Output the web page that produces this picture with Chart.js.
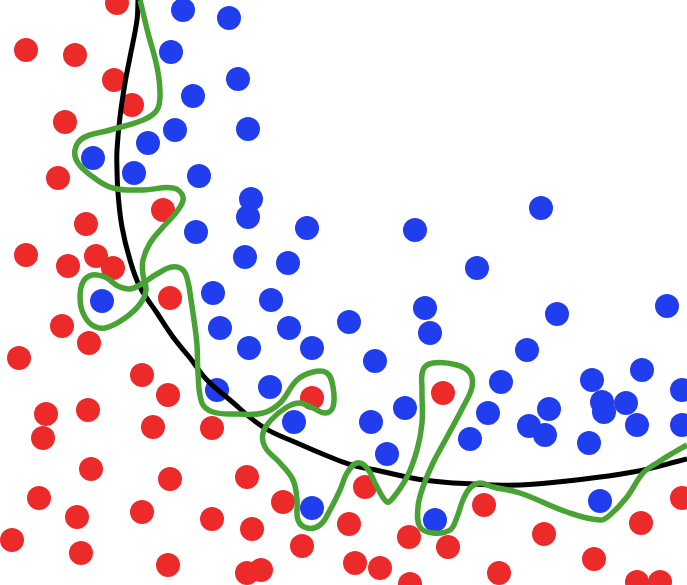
<!DOCTYPE html>
<html>
<head>
<meta charset="utf-8">
<script src="https://cdn.jsdelivr.net/npm/chart.js@4"></script>
<style>
  html, body { margin: 0; padding: 0; background: #ffffff; }
  #wrap { width: 687px; height: 585px; position: relative; }
</style>
</head>
<body>
<div id="wrap"><canvas id="c"></canvas></div>
<script>
// Red class points (x, y in picture units, y measured downward)
const redX = [117, 26, 75, 114, 132, 65, 58, 163, 86, 26, 68, 96, 113, 170, 62, 89, 19, 142, 168, 46, 88, 43, 153, 212, 312, 91, 170, 247, 39, 77, 142, 212, 283, 252, 12, 81, 168, 302, 247, 261, 349, 365, 443, 484, 682, 409, 448, 544, 641, 355, 380, 499, 594, 410, 637, 660];
const redY = [3, 50, 55, 80, 105, 122, 178, 210, 224, 255, 266, 256, 268, 298, 326, 343, 358, 375, 395, 414, 410, 438, 427, 428, 398, 469, 479, 477, 498, 517, 512, 519, 502, 529, 540, 553, 565, 546, 573, 570, 524, 487, 393, 505, 498, 537, 547, 534, 523, 563, 568, 573, 559, 584, 582, 582];

// Blue class points
const blueX = [183, 229, 171, 238, 193, 175, 248, 148, 93, 134, 199, 251, 248, 196, 307, 245, 288, 102, 213, 271, 220, 289, 349, 249, 312, 217, 270, 294, 312, 415, 541, 477, 425, 430, 557, 667, 375, 527, 501, 592, 642, 682, 405, 371, 488, 470, 387, 549, 529, 545, 602, 604, 626, 637, 589, 682, 600, 435];
const blueY = [10, 18, 52, 79, 96, 130, 129, 143, 158, 173, 176, 199, 217, 232, 228, 257, 263, 301, 293, 300, 328, 328, 322, 348, 348, 390, 387, 422, 508, 230, 208, 268, 308, 333, 314, 306, 361, 350, 382, 380, 370, 390, 408, 422, 413, 439, 454, 409, 426, 435, 402, 412, 403, 425, 443, 425, 501, 520];

// Smooth decision boundary (black)
const blackX = [138, 137, 130, 125, 120, 117, 117, 118, 122, 130, 140, 157, 173, 190, 207, 230, 263, 297, 330, 352, 380, 423, 473, 520, 567, 633, 687];
const blackY = [0, 20, 57, 83, 117, 150, 170, 193, 227, 260, 287, 313, 337, 358, 380, 400, 427, 443, 457, 465, 471, 480, 484, 485, 481, 472, 459];

// Overfitted boundary (green)
const greenX = [140, 148, 157, 160, 157, 143, 110, 83, 75, 78, 93, 113, 143, 173, 183, 178, 163, 150, 143, 143, 146, 140, 125, 105, 92, 83, 80, 83, 92, 105, 118, 130, 143, 157, 172, 183, 188, 191, 194, 197, 198, 202, 213, 237, 263, 280, 297, 313, 327, 333, 333, 325, 313, 300, 287, 271, 263, 265, 280, 293, 297, 298, 307, 320, 330, 340, 347, 357, 367, 377, 387, 393, 407, 417, 422, 422, 423, 433, 457, 470, 472, 463, 447, 433, 423, 418, 420, 433, 450, 457, 463, 470, 480, 493, 520, 567, 600, 610, 627, 643, 657, 673, 687];
const greenY = [0, 33, 67, 93, 110, 120, 130, 138, 150, 163, 177, 188, 190, 188, 197, 210, 227, 243, 260, 275, 290, 304, 318, 328, 325, 313, 297, 282, 275, 277, 286, 289, 283, 274, 267, 270, 282, 300, 320, 345, 373, 403, 412, 414, 413, 403, 380, 372, 373, 387, 407, 413, 408, 403, 407, 420, 433, 447, 463, 480, 500, 520, 528, 525, 510, 490, 473, 463, 468, 487, 502, 498, 477, 450, 423, 390, 370, 363, 365, 373, 387, 407, 437, 463, 487, 507, 527, 533, 530, 517, 500, 488, 483, 487, 493, 512, 520, 515, 497, 473, 463, 453, 445];

const pts = (xs, ys) => xs.map((x, i) => ({ x: x, y: ys[i] }));

new Chart(document.getElementById('c'), {
  type: 'scatter',
  data: {
    datasets: [
      {
        label: 'overfit',
        data: pts(greenX, greenY),
        showLine: true,
        borderColor: 'rgb(72,163,52)',
        borderWidth: 5.5,
        pointRadius: 0,
        tension: 0.4,
        fill: false,
        clip: false,
        order: 0
      },
      {
        label: 'boundary',
        data: pts(blackX, blackY),
        showLine: true,
        borderColor: '#000000',
        borderWidth: 5,
        pointRadius: 0,
        tension: 0.4,
        fill: false,
        clip: false,
        order: 1
      },
      {
        label: 'red',
        data: pts(redX, redY),
        backgroundColor: 'rgb(236,42,42)',
        borderColor: 'rgb(236,42,42)',
        borderWidth: 0,
        pointRadius: 12,
        clip: false,
        order: 2
      },
      {
        label: 'blue',
        data: pts(blueX, blueY),
        backgroundColor: 'rgb(33,62,238)',
        borderColor: 'rgb(33,62,238)',
        borderWidth: 0,
        pointRadius: 12,
        clip: false,
        order: 2
      }
    ]
  },
  options: {
    responsive: true,
    maintainAspectRatio: false,
    animation: false,
    layout: { padding: 0, autoPadding: false },
    plugins: { legend: { display: false }, tooltip: { enabled: false } },
    scales: {
      x: { type: 'linear', min: 0, max: 687, display: false },
      y: { type: 'linear', min: 0, max: 585, reverse: true, display: false }
    }
  }
});
</script>
</body>
</html>
